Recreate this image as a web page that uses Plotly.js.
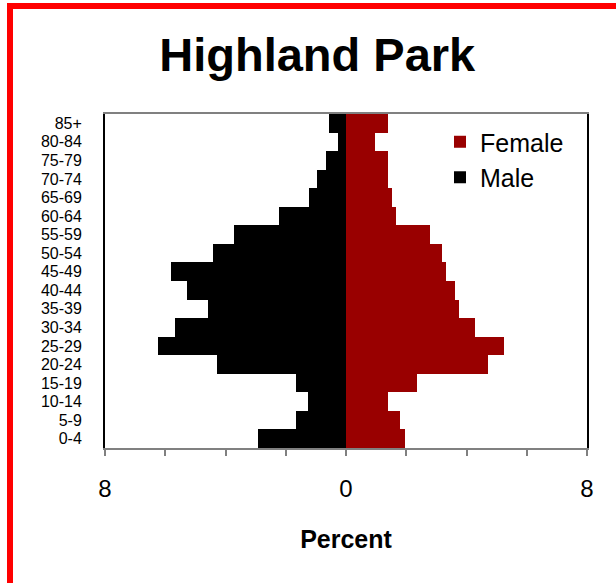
<!DOCTYPE html>
<html>
<head>
<meta charset="utf-8">
<script src="https://cdn.plot.ly/plotly-3.0.1.min.js"></script>
<style>
  html, body { margin: 0; padding: 0; background: #fff; overflow: hidden; }
  #frame { position: absolute; left: 7px; top: 3px; width: 800px; height: 800px; border: 6px solid #ff0000; box-sizing: border-box; }
  #chart { position: absolute; left: 0; top: 0; width: 616px; height: 583px; }
</style>
</head>
<body>
<div id="frame"></div>
<div id="chart"></div>
<script>
// Age groups (bottom to top)
const ageGroups = ["0-4","5-9","10-14","15-19","20-24","25-29","30-34","35-39","40-44",
                   "45-49","50-54","55-59","60-64","65-69","70-74","75-79","80-84","85+"];
// Percent of population
const malePct   = [2.91, 1.66, 1.25, 1.66, 4.28, 6.23, 5.68, 4.57, 5.27,
                   5.81, 4.41, 3.73, 2.21, 1.24, 0.95, 0.67, 0.28, 0.55];
const femalePct = [1.95, 1.80, 1.39, 2.37, 4.71, 5.26, 4.29, 3.75, 3.61,
                   3.33, 3.20, 2.78, 1.66, 1.53, 1.39, 1.39, 0.97, 1.39];
const xTickVals = [-8, -6, -4, -2, 0, 2, 4, 6, 8];
const xTickText = ["8", "", "", "", "0", "", "", "", "8"];

const FONT = "Liberation Sans, Arial, sans-serif";

const traces = [
  {
    type: "bar", orientation: "h", name: "Female",
    y: ageGroups, x: femalePct,
    marker: { color: "#990000", line: { width: 0 } }
  },
  {
    type: "bar", orientation: "h", name: "Male",
    y: ageGroups, x: malePct.map(v => -v),
    marker: { color: "#000000", line: { width: 0 } }
  }
];

const layout = {
  width: 616, height: 583,
  paper_bgcolor: "rgba(0,0,0,0)",
  plot_bgcolor: "#ffffff",
  margin: { l: 105, r: 29, t: 114, b: 135 },
  font: { family: FONT, color: "#000" },
  barmode: "relative",
  bargap: 0,
  title: {
    text: "<b>Highland Park</b>",
    font: { family: FONT, size: 47, color: "#000" },
    x: 0.515, xref: "container", xanchor: "center",
    y: 1 - 55 / 583, yref: "container", yanchor: "middle"
  },
  xaxis: {
    range: [-8, 8],
    tickmode: "array", tickvals: xTickVals, ticktext: xTickText,
    ticks: "outside", ticklen: 6, tickwidth: 2, tickcolor: "#808080",
    tickfont: { family: FONT, size: 24, color: "#000" },
    ticklabelstandoff: 12,
    showline: true, linecolor: "#808080", linewidth: 2, mirror: true,
    showgrid: false, zeroline: false,
    title: { text: "<b>Percent</b>", font: { family: FONT, size: 25, color: "#000" }, standoff: 30 }
  },
  yaxis: {
    type: "category",
    categoryorder: "array", categoryarray: ageGroups,
    tickmode: "array", tickvals: ageGroups, ticktext: ageGroups,
    ticks: "", tickfont: { family: FONT, size: 16, color: "#000" },
    ticklabelstandoff: 18,
    showline: true, linecolor: "#000000", linewidth: 2, mirror: true,
    showgrid: false, zeroline: false
  },
  legend: {
    x: 0.695, y: 0.985, xanchor: "left", yanchor: "top",
    bgcolor: "rgba(0,0,0,0)",
    font: { family: FONT, size: 25, color: "#000" },
    traceorder: "normal",
    itemwidth: 30,
    tracegroupgap: 0
  },
  showlegend: true
};

Plotly.newPlot("chart", traces, layout, { displayModeBar: false, staticPlot: true });
</script>
</body>
</html>
